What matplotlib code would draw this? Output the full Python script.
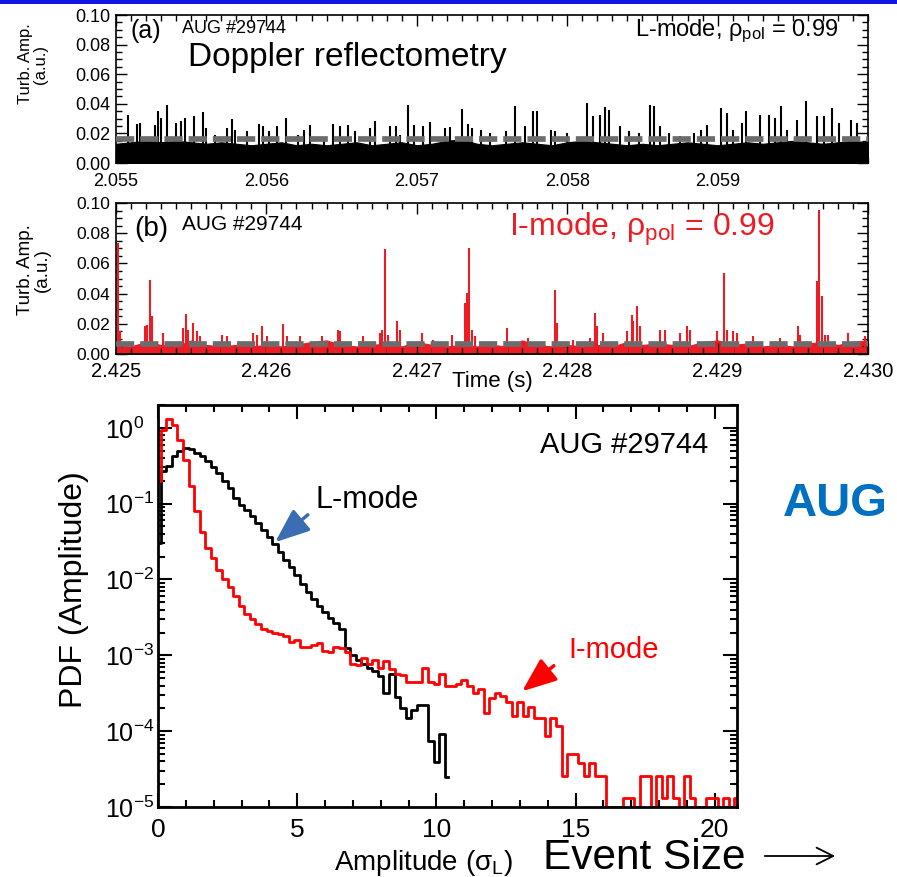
import numpy as np
import matplotlib
matplotlib.use("Agg")
import matplotlib.pyplot as plt
from matplotlib.patches import Rectangle, FancyArrowPatch
from matplotlib.ticker import (MultipleLocator, FixedLocator, FormatStrFormatter,
                               LogLocator, NullFormatter, FuncFormatter)

plt.rcParams['font.family'] = ['Liberation Sans', 'DejaVu Sans']
plt.rcParams['mathtext.fontset'] = 'custom'
plt.rcParams['mathtext.rm'] = 'Liberation Sans'
plt.rcParams['mathtext.it'] = 'Liberation Sans:italic'
plt.rcParams['mathtext.default'] = 'regular'

W, H = 897, 877

# ---- (a) L-mode turbulence amplitude: spikes ----
spike_t_a = [2.05508, 2.05514, 2.05516, 2.05526, 2.05528, 2.05530, 2.05534, 2.05540, 2.05543, 2.05546,
             2.05552, 2.05558, 2.05560, 2.05566, 2.05574, 2.05577, 2.05579, 2.05587, 2.05595, 2.05598,
             2.05602, 2.05607, 2.05613, 2.05621, 2.05625, 2.05629, 2.05638, 2.05644, 2.05649, 2.05654,
             2.05659, 2.05669, 2.05672, 2.05682, 2.05686, 2.05689, 2.05694, 2.05698, 2.05704, 2.05709,
             2.05719, 2.05722, 2.05730, 2.05734, 2.05737, 2.05743, 2.05749, 2.05759, 2.05765, 2.05772,
             2.05777, 2.05780, 2.05789, 2.05792, 2.05800, 2.05813, 2.05817, 2.05822, 2.05825, 2.05828,
             2.05835, 2.05841, 2.05848, 2.05855, 2.05858, 2.05862, 2.05868, 2.05875, 2.05884, 2.05889,
             2.05893, 2.05902, 2.05906, 2.05910, 2.05916, 2.05919, 2.05928, 2.05934, 2.05938, 2.05942,
             2.05946, 2.05953, 2.05959, 2.05966, 2.05971, 2.05976, 2.05981, 2.05989, 2.05993]
spike_h_a = [0.0326, 0.0264, 0.0270, 0.0260, 0.0349, 0.0304, 0.0389, 0.0270, 0.0281, 0.0304,
             0.0315, 0.0345, 0.0236, 0.0191, 0.0236, 0.0300, 0.0225, 0.0214, 0.0264, 0.0247,
             0.0214, 0.0247, 0.0304, 0.0191, 0.0225, 0.0255, 0.0169, 0.0264, 0.0247, 0.0260,
             0.0214, 0.0236, 0.0286, 0.0247, 0.0247, 0.0191, 0.0389, 0.0260, 0.0247, 0.0277,
             0.0236, 0.0240, 0.0367, 0.0264, 0.0236, 0.0225, 0.0203, 0.0214, 0.0387, 0.0247,
             0.0349, 0.0349, 0.0225, 0.0214, 0.0203, 0.0405, 0.0315, 0.0326, 0.0380, 0.0360,
             0.0247, 0.0214, 0.0203, 0.0394, 0.0387, 0.0247, 0.0203, 0.0180, 0.0203, 0.0225,
             0.0258, 0.0372, 0.0338, 0.0225, 0.0270, 0.0349, 0.0326, 0.0326, 0.0304, 0.0387,
             0.0225, 0.0293, 0.0416, 0.0315, 0.0315, 0.0372, 0.0270, 0.0293, 0.0270]
# dense background level, one value per 0.1 ms
band_a = [0.013, 0.014, 0.015, 0.014, 0.015, 0.014, 0.013, 0.014, 0.013, 0.012,
          0.013, 0.014, 0.012, 0.013, 0.012, 0.013, 0.014, 0.012, 0.013, 0.014,
          0.012, 0.013, 0.015, 0.016, 0.013, 0.012, 0.013, 0.014, 0.013, 0.012,
          0.014, 0.015, 0.014, 0.013, 0.012, 0.013, 0.012, 0.013, 0.014, 0.013,
          0.012, 0.013, 0.014, 0.013, 0.014, 0.015, 0.014, 0.013, 0.014, 0.015, 0.014]
thresh_a = 0.0165

# ---- (b) I-mode turbulence amplitude ----
spike_t_b = [2.425015, 2.425027, 2.425193, 2.425204, 2.425226, 2.425237, 2.425315, 2.425447, 2.425463, 2.425481,
             2.425510, 2.425537, 2.425559, 2.425703, 2.425736, 2.425913, 2.425936, 2.425969, 2.426002, 2.426112,
             2.426135, 2.426223, 2.426368, 2.426478, 2.426489, 2.426644, 2.426755, 2.426767, 2.426789, 2.426811,
             2.426866, 2.426888, 2.427033, 2.427110, 2.427232, 2.427320, 2.427336, 2.427349, 2.427365, 2.427387,
             2.427598, 2.427741, 2.427919, 2.427930, 2.428041, 2.428152, 2.428185, 2.428196, 2.428240, 2.428396,
             2.428429, 2.428440, 2.428466, 2.428484, 2.428617, 2.428650, 2.428750, 2.428795, 2.428817, 2.428994,
             2.429043, 2.429061, 2.429104, 2.429127, 2.429237, 2.429415, 2.429537, 2.429548, 2.429659, 2.429674,
             2.429692, 2.429714, 2.429736, 2.429869, 2.429980]
spike_h_b = [0.0735, 0.0150, 0.0183, 0.0194, 0.0492, 0.0249, 0.0139, 0.0172, 0.0267, 0.0161,
             0.0205, 0.0150, 0.0117, 0.0128, 0.0117, 0.0139, 0.0128, 0.0187, 0.0117, 0.0200,
             0.0117, 0.0117, 0.0117, 0.0160, 0.0150, 0.0117, 0.0139, 0.0161, 0.0695, 0.0128,
             0.0216, 0.0161, 0.0139, 0.0095, 0.0128, 0.0338, 0.0404, 0.0702, 0.0161, 0.0117,
             0.0172, 0.0106, 0.0426, 0.0205, 0.0095, 0.0106, 0.0271, 0.0183, 0.0139, 0.0150,
             0.0260, 0.0216, 0.0320, 0.0183, 0.0161, 0.0161, 0.0139, 0.0183, 0.0161, 0.0150,
             0.0536, 0.0161, 0.0150, 0.0139, 0.0117, 0.0106, 0.0183, 0.0128, 0.0481, 0.0956,
             0.0381, 0.0128, 0.0128, 0.0139, 0.0117]
band_b = [0.006, 0.005, 0.008, 0.006, 0.005, 0.009, 0.006, 0.005, 0.006, 0.005,
          0.006, 0.005, 0.006, 0.008, 0.009, 0.006, 0.005, 0.006, 0.007, 0.005,
          0.008, 0.006, 0.005, 0.006, 0.005, 0.006, 0.005, 0.009, 0.006, 0.005,
          0.006, 0.005, 0.006, 0.005, 0.008, 0.006, 0.007, 0.006, 0.005, 0.008,
          0.009, 0.006, 0.007, 0.005, 0.006, 0.005, 0.007, 0.008, 0.006, 0.008, 0.009]
thresh_b = 0.0066

# ---- (c) PDFs of amplitude, bins of 0.2 sigma_L starting at 0 ----
pdf_lmode = [0.03, 0.27, 0.31, 0.42, 0.49, 0.54, 0.52, 0.47, 0.42, 0.36,
             0.30, 0.25, 0.20, 0.16, 0.12, 0.097, 0.083, 0.068, 0.055, 0.045,
             0.036, 0.029, 0.023, 0.018, 0.0145, 0.0115, 0.0088, 0.0068, 0.0055, 0.0045,
             0.0037, 0.0031, 0.0027, 0.0022, 0.00125, 0.0010, 0.00088, 0.00078, 0.00068, 0.00062,
             0.00053, 0.00032, 0.00057, 0.00028, 0.00020, 0.00015, 0.00019, 0.00022, 0.00022, 7.4e-5,
             3.9e-5, 9.1e-5, 2.45e-5]
pdf_imode = [0.2, 0.95, 1.3, 1.1, 0.69, 0.38, 0.17, 0.08, 0.042, 0.026,
             0.019, 0.0135, 0.0102, 0.008, 0.006, 0.0045, 0.0035, 0.0030, 0.0026, 0.0022,
             0.0021, 0.0020, 0.0019, 0.0018, 0.0015, 0.0016, 0.0013, 0.0013, 0.00135, 0.00144,
             0.00114, 0.00112, 0.0013, 0.00125, 0.00112, 0.00076, 0.00075, 0.00091, 0.00078, 0.00088,
             0.00068, 0.00085, 0.00066, 0.00056, 0.00055, 0.00045, 0.00045, 0.00045, 0.00069, 0.00045,
             0.00042, 0.00056, 0.00039, 0.0004, 0.00042, 0.00048, 0.0004, 0.00032, 0.00036, 0.000173,
             0.00027, 0.00032, 0.00029, 0.00024, 0.00016, 0.00024, 0.00016, 0.00021, 0.00015, 0.00015,
             8.7e-5, 0.00015, 0.000117, 2.6e-5, 5e-5, 5e-5, 3.8e-5, 2.6e-5, 3.8e-5, 2.6e-5,
             2.6e-5, 1e-5, 1e-5, 1e-5, 1.3e-5, 1.3e-5, 1e-5, 2.6e-5, 2.6e-5, 1e-5,
             2.6e-5, 1.3e-5, 2.6e-5, 1.3e-5, 1e-5, 2.6e-5, 1.3e-5, 1e-5, 1e-5, 1.3e-5,
             1.3e-5, 1e-5, 1.3e-5, 1e-5, 1.3e-5]
bin_width = 0.2
amp_lmode = np.arange(len(pdf_lmode)) * bin_width
amp_imode = np.arange(len(pdf_imode)) * bin_width

red_b = '#ed1c24'
gray = '#6c6c6c'


def rect(l, t, r, b):
    return [l / W, 1 - b / H, (r - l) / W, (b - t) / H]


def ftext(x, y, s, **kw):
    fig.text(x / W, 1 - y / H, s, **kw)


def style_ts(ax):
    ax.tick_params(which='both', direction='in', top=True, right=True)
    ax.tick_params(which='major', length=8, width=1)
    ax.tick_params(which='minor', length=4, width=1)
    ax.yaxis.set_major_locator(MultipleLocator(0.02))
    ax.yaxis.set_minor_locator(MultipleLocator(0.005))
    ax.yaxis.set_major_formatter(FormatStrFormatter('%.2f'))
    ax.xaxis.set_minor_locator(MultipleLocator(0.0001))
    ax.xaxis.set_major_formatter(FormatStrFormatter('%.3f'))
    ax.set_ylim(0, 0.10)
    for s in ax.spines.values():
        s.set_linewidth(1.2)


fig = plt.figure(figsize=(W / 100, H / 100), dpi=100)
fig.add_artist(Rectangle((0, 1 - 4 / H), 1, 4 / H, transform=fig.transFigure,
                         color='#1414e0', lw=0))

# panel (a)
ax1 = fig.add_axes(rect(116, 15, 868, 163))
t_band_a = 2.055 + np.arange(len(band_a)) * 0.0001
ax1.fill_between(t_band_a, 0, band_a, color='k', lw=0.8, edgecolor='k')
ax1.vlines(spike_t_a, 0, spike_h_a, color='k', lw=1.5)
ax1.axhline(thresh_a, color=gray, lw=4.1, dashes=(3.2, 1.05), zorder=3)
ax1.set_xlim(2.055, 2.060)
ax1.xaxis.set_major_locator(FixedLocator([2.055, 2.056, 2.057, 2.058, 2.059]))
style_ts(ax1)
ax1.tick_params(axis='x', labelsize=13, pad=7)
ax1.tick_params(axis='y', labelsize=13, pad=4)

# panel (b)
ax2 = fig.add_axes(rect(116, 203, 868, 354))
t_band_b = 2.425 + np.arange(len(band_b)) * 0.0001
ax2.fill_between(t_band_b, 0, band_b, color=red_b, lw=0.8, edgecolor=red_b)
ax2.vlines(spike_t_b, 0, spike_h_b, color=red_b, lw=1.5)
ax2.axhline(thresh_b, color=gray, lw=4.1, dashes=(3.2, 1.05), zorder=3)
ax2.set_xlim(2.425, 2.430)
ax2.xaxis.set_major_locator(FixedLocator([2.425, 2.426, 2.427, 2.428, 2.429, 2.430]))
style_ts(ax2)
ax2.tick_params(axis='x', labelsize=14.5, pad=6)
ax2.tick_params(axis='y', labelsize=12.5, pad=4)

# panel (c)
ax3 = fig.add_axes(rect(158, 405, 737, 807))
ax3.step(amp_lmode, pdf_lmode, where='mid', color='k', lw=2)
ax3.step(amp_imode, pdf_imode, where='mid', color='#ff0000', lw=2)
ax3.set_yscale('log')
ax3.set_ylim(1e-5, 2.0)
ax3.set_xlim(0, 20.8)
ax3.xaxis.set_major_locator(FixedLocator([0, 5, 10, 15, 20]))
ax3.xaxis.set_minor_locator(MultipleLocator(1))
ax3.yaxis.set_major_locator(LogLocator(base=10, numticks=12))
ax3.yaxis.set_minor_locator(LogLocator(base=10, subs=np.arange(2, 10), numticks=12))
ax3.yaxis.set_minor_formatter(NullFormatter())
ax3.yaxis.set_major_formatter(FuncFormatter(lambda v, p: '10$^{%d}$' % int(round(np.log10(v)))))
ax3.tick_params(which='both', direction='in', top=True, right=True, width=1.5)
ax3.tick_params(which='major', length=10)
ax3.tick_params(which='minor', length=5)
ax3.tick_params(axis='x', labelsize=19, pad=8)
ax3.tick_params(axis='y', labelsize=18, pad=38)
for lab in ax3.get_yticklabels():
    lab.set_horizontalalignment('left')
for s in ax3.spines.values():
    s.set_linewidth(2)

# texts, panels (a) and (b)
ftext(131, 38, '(a)', fontsize=18)
ftext(182, 33, 'AUG #29744', fontsize=13)
ftext(838, 36, 'L-mode, ρ$_{pol}$ = 0.99', fontsize=17, ha='right')
ftext(188, 66, 'Doppler reflectometry', fontsize=24)
ftext(33, 64, 'Turb. Amp.\n(a.u.)', fontsize=12, rotation=90, ha='center', va='center',
      multialignment='center', linespacing=1.0)

ftext(134, 236, '(b)', fontsize=20)
ftext(182, 230, 'AUG #29744', fontsize=15)
ftext(775, 236, 'I-mode, ρ$_{pol}$ = 0.99', fontsize=23, ha='right', color=red_b)
ftext(34, 270, 'Turb. Amp.\n(a.u.)', fontsize=13.5, rotation=90, ha='center', va='center',
      multialignment='center', linespacing=1.0)
ftext(492, 387, 'Time (s)', fontsize=16, ha='center')

# texts, panel (c)
ftext(708, 453, 'AUG #29744', fontsize=21, ha='right')
ftext(315, 508, 'L-mode', fontsize=22)
ftext(568, 658, 'I-mode', fontsize=21, color='#ff0000')
ftext(74, 590, 'PDF (Amplitude)', fontsize=23, rotation=90, ha='center', va='center')
ftext(423, 870, 'Amplitude (σ$_L$)', fontsize=20, ha='center')
ftext(783, 516, 'AUG', fontsize=34, fontweight='bold', color='#0070c0')
ftext(543, 869, 'Event Size', fontsize=30.5)

fig.add_artist(FancyArrowPatch(
    (310 / W, 1 - 513 / H), (273 / W, 1 - 544 / H), transform=fig.transFigure,
    arrowstyle='-|>,head_length=0.95,head_width=0.38', mutation_scale=22,
    color='#3b6db5', lw=2.5))
fig.add_artist(FancyArrowPatch(
    (556 / W, 1 - 664 / H), (520 / W, 1 - 693 / H), transform=fig.transFigure,
    arrowstyle='-|>,head_length=0.95,head_width=0.38', mutation_scale=22,
    color='#ff0000', lw=2.5))
fig.add_artist(FancyArrowPatch(
    (762 / W, 1 - 856 / H), (838 / W, 1 - 856 / H), transform=fig.transFigure,
    arrowstyle='->,head_length=0.6,head_width=0.3', mutation_scale=20,
    color='k', lw=1.3))

fig.savefig('out.png', dpi=100)
